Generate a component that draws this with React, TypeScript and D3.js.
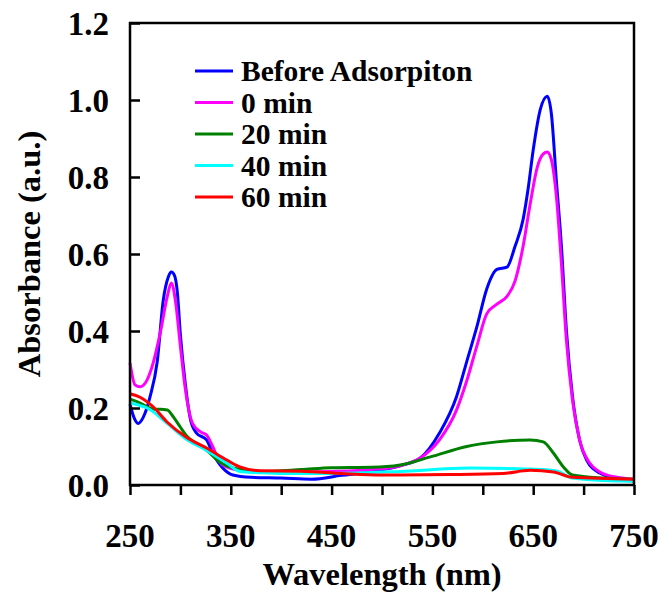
import React, { useRef, useEffect } from 'react';
import * as d3 from 'd3';

// [wavelength (nm), absorbance (a.u.)]
const beforeAds: [number, number][] = [
  [250, 0.21], [254, 0.175], [258, 0.16], [263, 0.175], [270, 0.23], [277, 0.32], [283, 0.48],
  [288, 0.54], [291, 0.553], [294, 0.545], [297, 0.5], [300, 0.39], [305, 0.26], [310, 0.17],
  [316, 0.135], [326, 0.117], [332, 0.083], [342, 0.044], [352, 0.026], [370, 0.02],
  [400, 0.018], [430, 0.015], [460, 0.025], [490, 0.035], [518, 0.05], [538, 0.07],
  [557, 0.135], [574, 0.23], [584, 0.32], [594, 0.41], [604, 0.51], [614, 0.56], [624, 0.566],
  [632, 0.62], [640, 0.69], [645, 0.77], [650, 0.87], [657, 0.975], [664, 1.01], [668, 0.965],
  [673, 0.79], [678, 0.62], [683, 0.4], [689, 0.23], [696, 0.117], [703, 0.065], [716, 0.031],
  [733, 0.018], [750, 0.01],
];

const min0: [number, number][] = [
  [250, 0.317], [255, 0.26], [260, 0.255], [267, 0.273], [273, 0.317], [280, 0.395], [287, 0.49],
  [291, 0.525], [295, 0.48], [300, 0.36], [305, 0.247], [312, 0.16], [320, 0.138], [326, 0.13],
  [332, 0.1], [339, 0.06], [346, 0.047], [360, 0.038], [400, 0.033], [450, 0.035], [490, 0.04],
  [518, 0.05], [538, 0.07], [557, 0.117], [574, 0.195], [584, 0.27], [594, 0.36], [604, 0.445],
  [614, 0.47], [624, 0.49], [632, 0.53], [640, 0.62], [647, 0.73], [654, 0.825], [660, 0.86],
  [664, 0.865], [668, 0.845], [673, 0.75], [678, 0.575], [683, 0.375], [689, 0.22], [696, 0.117],
  [706, 0.057], [716, 0.034], [733, 0.02], [750, 0.015],
];

const min20: [number, number][] = [
  [250, 0.223], [260, 0.213], [267, 0.203], [273, 0.197], [280, 0.197], [287, 0.195],
  [293, 0.177], [300, 0.15], [307, 0.125], [316, 0.108], [326, 0.09], [339, 0.06], [352, 0.044],
  [380, 0.035], [420, 0.04], [450, 0.045], [490, 0.046], [518, 0.052], [548, 0.073], [584, 0.1],
  [614, 0.112], [647, 0.117], [660, 0.112], [670, 0.083], [680, 0.047], [689, 0.026],
  [720, 0.018], [750, 0.015],
];

const min40: [number, number][] = [
  [250, 0.213], [258, 0.208], [267, 0.2], [287, 0.16], [307, 0.117], [326, 0.09], [346, 0.057],
  [359, 0.035], [400, 0.03], [450, 0.03], [518, 0.035], [587, 0.044], [660, 0.04], [675, 0.035],
  [689, 0.018], [720, 0.012], [750, 0.01],
];

const min60: [number, number][] = [
  [250, 0.237], [260, 0.228], [273, 0.203], [287, 0.163], [307, 0.122], [326, 0.096],
  [346, 0.065], [359, 0.047], [379, 0.037], [420, 0.036], [460, 0.03], [500, 0.026],
  [518, 0.026], [568, 0.027], [620, 0.03], [647, 0.038], [670, 0.034], [689, 0.02], [750, 0.015],
];

const seriesNames = ['Before Adsorpiton', '0 min', '20 min', '40 min', '60 min'];
const seriesData = [beforeAds, min0, min20, min40, min60];
const seriesColors = ['#0000ff', '#ff00ff', '#008000', '#00ffff', '#ff0000'];

const xTicks = [250, 300, 350, 400, 450, 500, 550, 600, 650, 700, 750];
const xLabels = [250, 350, 450, 550, 650, 750];
const yTicks = [0, 0.2, 0.4, 0.6, 0.8, 1.0, 1.2];

const Chart = () => {
  const svgRef = useRef<SVGSVGElement>(null);

  useEffect(() => {
    const svg = d3.select(svgRef.current);
    svg.selectAll('*').remove();

    const left = 130, right = 634, top = 23, bottom = 485;
    const font = '"Liberation Serif", "Times New Roman", serif';

    const x = d3.scaleLinear().domain([250, 750]).range([left, right]);
    const y = d3.scaleLinear().domain([0, 1.2]).range([bottom, top]);

    // curves
    const lineGen = d3.line<[number, number]>()
      .x(d => x(d[0]))
      .y(d => y(d[1]))
      .curve(d3.curveMonotoneX);

    seriesData.forEach((data, i) => {
      svg.append('path')
        .datum(data)
        .attr('fill', 'none')
        .attr('stroke', seriesColors[i])
        .attr('stroke-width', 3)
        .attr('d', lineGen);
    });

    // frame
    svg.append('rect')
      .attr('x', left).attr('y', top)
      .attr('width', right - left).attr('height', bottom - top)
      .attr('fill', 'none').attr('stroke', '#000').attr('stroke-width', 2.5);

    // x axis ticks (outward)
    const xAxis = svg.append('g')
      .attr('transform', `translate(0, ${bottom})`)
      .call(d3.axisBottom(x).tickValues(xTicks).tickSize(10).tickFormat(() => ''));
    xAxis.select('.domain').remove();
    xAxis.selectAll('line').attr('stroke', '#000').attr('stroke-width', 2.5);

    svg.append('g').selectAll('text')
      .data(xLabels)
      .join('text')
      .attr('x', d => x(d))
      .attr('y', 547)
      .attr('text-anchor', 'middle')
      .attr('font-family', font)
      .attr('font-weight', 'bold')
      .attr('font-size', 33)
      .text(d => d);

    // y axis ticks (inward)
    const yAxis = svg.append('g')
      .attr('transform', `translate(${left}, 0)`)
      .call(d3.axisRight(y).tickValues(yTicks).tickSize(10).tickFormat(() => ''));
    yAxis.select('.domain').remove();
    yAxis.selectAll('line').attr('stroke', '#000').attr('stroke-width', 2.5);

    svg.append('g').selectAll('text')
      .data(yTicks)
      .join('text')
      .attr('x', 109)
      .attr('y', d => y(d))
      .attr('dy', '0.35em')
      .attr('text-anchor', 'end')
      .attr('font-family', font)
      .attr('font-weight', 'bold')
      .attr('font-size', 33)
      .text(d => d3.format('.1f')(d));

    // axis titles
    svg.append('text')
      .attr('x', (left + right) / 2)
      .attr('y', 585)
      .attr('text-anchor', 'middle')
      .attr('font-family', font)
      .attr('font-weight', 'bold')
      .attr('font-size', 32.5)
      .text('Wavelength (nm)');

    svg.append('text')
      .attr('transform', `translate(40, 254) rotate(-90)`)
      .attr('text-anchor', 'middle')
      .attr('font-family', font)
      .attr('font-weight', 'bold')
      .attr('font-size', 32.5)
      .text('Absorbance (a.u.)');

    // legend
    const legend = svg.append('g');
    seriesNames.forEach((name, i) => {
      const ly = 71 + i * 31.5;
      legend.append('line')
        .attr('x1', 195).attr('x2', 233)
        .attr('y1', ly).attr('y2', ly)
        .attr('stroke', seriesColors[i]).attr('stroke-width', 3);
      legend.append('text')
        .attr('x', 241).attr('y', ly)
        .attr('dy', '0.35em')
        .attr('font-family', font)
        .attr('font-weight', 'bold')
        .attr('font-size', 29.5)
        .text(name);
    });
  }, []);

  return <svg ref={svgRef} width={663} height={594} style={{ display: 'block' }}></svg>;
};

export default function App() {
  return (
    <div style={{ position: 'absolute', left: 0, top: 0 }}>
      <Chart />
    </div>
  );
}
